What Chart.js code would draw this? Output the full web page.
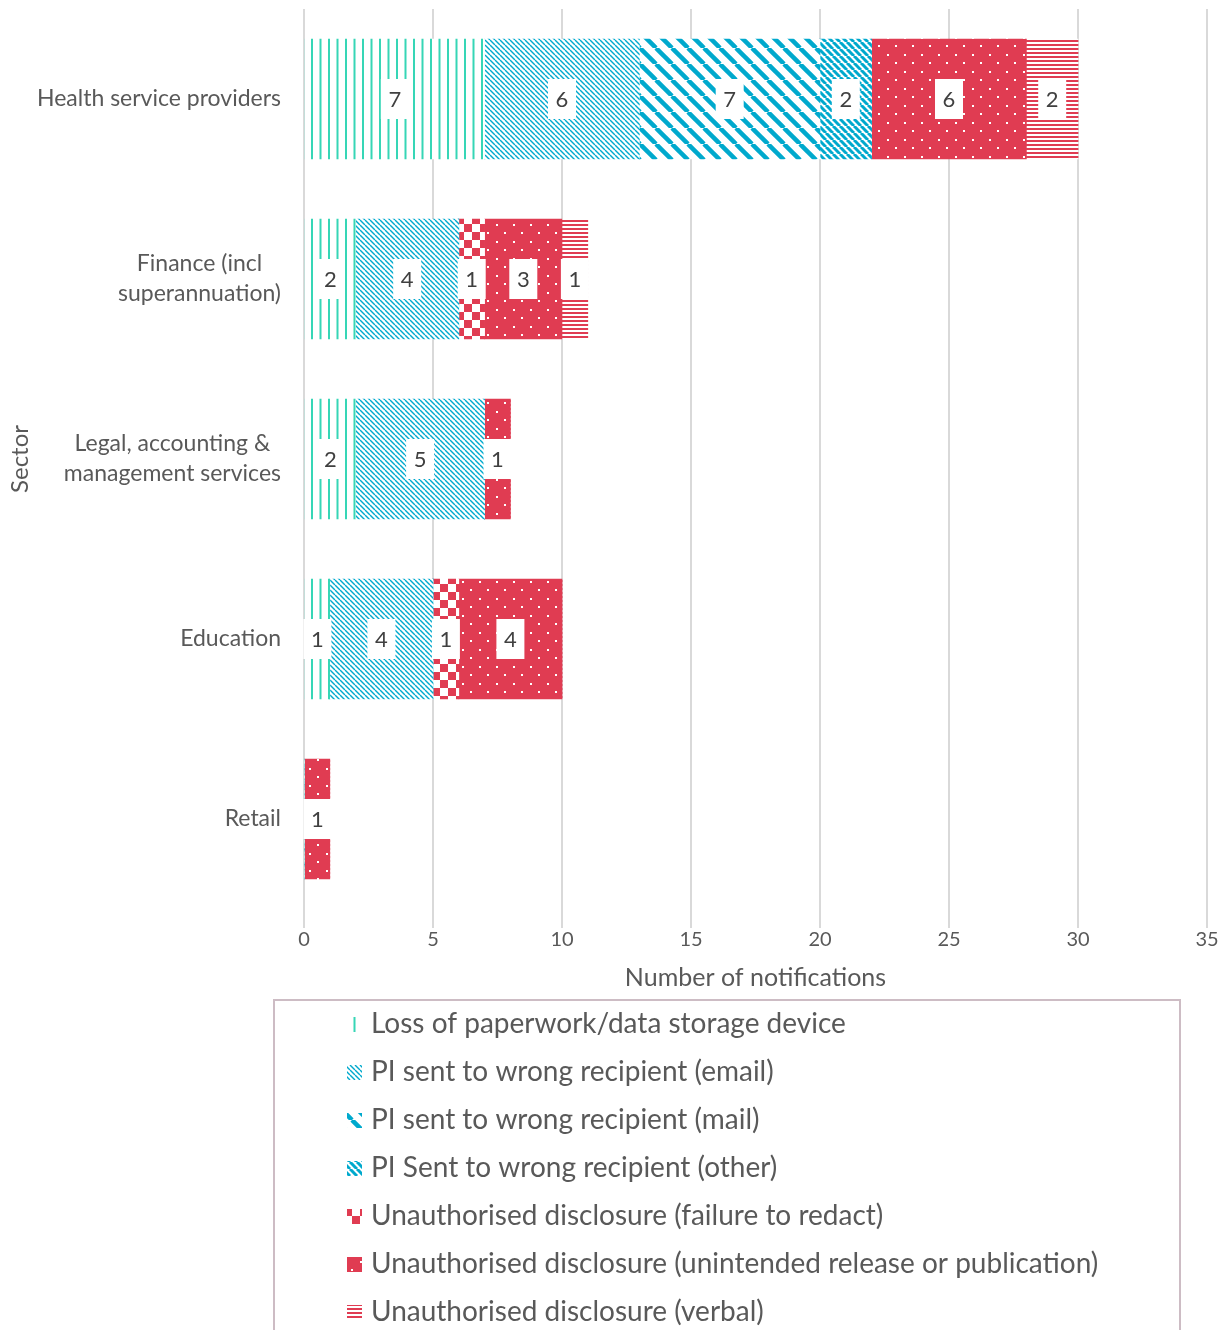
<!DOCTYPE html>
<html>
<head>
<meta charset="utf-8">
<script src="https://cdn.jsdelivr.net/npm/chart.js@4/dist/chart.umd.min.js"></script>
<style>
  body { margin: 0; background: #fff; }
  #wrap { width: 1230px; height: 1330px; position: relative; }
</style>
</head>
<body>
<div id="wrap"><canvas id="breaches"></canvas></div>
<script>
// sectors, top to bottom
var sectors = [
    ['Health service providers'],
    ['Finance (incl', 'superannuation)'],
    ['Legal, accounting &', 'management services'],
    ['Education'],
    ['Retail'],
];

var seriesNames = [
    'Loss of paperwork/data storage device',
    'PI sent to wrong recipient (email)',
    'PI sent to wrong recipient (mail)',
    'PI Sent to wrong recipient (other)',
    'Unauthorised disclosure (failure to redact)',
    'Unauthorised disclosure (unintended release or publication)',
    'Unauthorised disclosure (verbal)',
];

var lossPaperwork   = [7, 2, 2, 1, 0];
var wrongEmail      = [6, 4, 5, 4, 0];
var wrongMail       = [7, 0, 0, 0, 0];
var wrongOther      = [2, 0, 0, 0, 0];
var failRedact      = [0, 1, 0, 1, 0];
var unintendedRel   = [6, 3, 1, 4, 1];
var verbalDisclose  = [2, 1, 0, 0, 0];

var xTicks = [0, 5, 10, 15, 20, 25, 30, 35];

var GREEN = '#36d6b6';
var CYAN = '#00a9cd';
var RED = '#e03c52';
var TEXT = '#595959';
var FONT = 'Lato, "Noto Sans", sans-serif';

// ---- hatch patterns ----
function makeTile(w, h, draw) {
    var c = document.createElement('canvas');
    c.width = w;
    c.height = h;
    var ctx = c.getContext('2d');
    ctx.fillStyle = '#fff';
    ctx.fillRect(0, 0, w, h);
    draw(ctx, w, h);
    return document.createElement('canvas').getContext('2d').createPattern(c, 'repeat');
}

function diagTile(size, width, color) {
    return makeTile(size, size, function (ctx, w, h) {
        ctx.strokeStyle = color;
        ctx.lineWidth = width;
        // "\" direction, drawn three times so it wraps cleanly
        for (var k = -1; k <= 1; k++) {
            ctx.beginPath();
            ctx.moveTo(k * w, 0);
            ctx.lineTo(k * w + w, h);
            ctx.stroke();
        }
    });
}

var patterns = [
    makeTile(17, 4, function (ctx) {
        ctx.fillStyle = GREEN;
        ctx.fillRect(5, 0, 2, 4);
        ctx.fillRect(13.5, 0, 2, 4);
    }),
    diagTile(5, 1.4, CYAN),
    diagTile(16, 4.5, CYAN),
    diagTile(7, 3, CYAN),
    makeTile(16, 16, function (ctx) {
        ctx.fillStyle = RED;
        ctx.fillRect(0, 0, 8, 8);
        ctx.fillRect(8, 8, 8, 8);
    }),
    makeTile(17, 17, function (ctx) {
        ctx.fillStyle = RED;
        ctx.fillRect(0, 0, 17, 17);
        ctx.fillStyle = '#fff';
        ctx.fillRect(3, 3, 2, 2);
        ctx.fillRect(11, 11, 2, 2);
    }),
    makeTile(4, 4, function (ctx) {
        ctx.fillStyle = RED;
        ctx.fillRect(0, 0, 4, 2);
    }),
];

var allSeries = [lossPaperwork, wrongEmail, wrongMail, wrongOther, failRedact, unintendedRel, verbalDisclose];

var datasets = allSeries.map(function (vals, i) {
    return {
        label: seriesNames[i],
        data: vals,
        backgroundColor: patterns[i],
        borderWidth: 0,
        barThickness: 120,
    };
});

// white boxed numbers in the middle of each segment
var segmentLabels = {
    id: 'segmentLabels',
    afterDatasetsDraw: function (chart) {
        var ctx = chart.ctx;
        ctx.save();
        ctx.font = '22px ' + FONT;
        ctx.textAlign = 'center';
        ctx.textBaseline = 'middle';
        chart.data.datasets.forEach(function (ds, di) {
            var meta = chart.getDatasetMeta(di);
            meta.data.forEach(function (bar, i) {
                var v = ds.data[i];
                if (!v) return;
                var cx = (bar.x + bar.base) / 2;
                ctx.fillStyle = '#fff';
                ctx.fillRect(cx - 14, bar.y - 20, 28, 40);
                ctx.fillStyle = '#404040';
                ctx.fillText(String(v), cx, bar.y + 1);
            });
        });
        ctx.restore();
    }
};

// sector names: block right aligned, lines centred within it
var sectorLabels = {
    id: 'sectorLabels',
    afterDraw: function (chart) {
        var ctx = chart.ctx;
        var yScale = chart.scales.y;
        var right = chart.chartArea.left - 23;
        ctx.save();
        ctx.font = '23px ' + FONT;
        ctx.fillStyle = TEXT;
        ctx.textAlign = 'center';
        ctx.textBaseline = 'middle';
        sectors.forEach(function (lines, i) {
            var y = yScale.getPixelForValue(i);
            var wMax = Math.max.apply(null, lines.map(function (l) { return ctx.measureText(l).width; }));
            var cx = right - wMax / 2;
            var lh = 30;
            lines.forEach(function (l, j) {
                ctx.fillText(l, cx, y + (j - (lines.length - 1) / 2) * lh);
            });
        });
        ctx.restore();
    }
};

// boxed legend below the axis
var boxLegend = {
    id: 'boxLegend',
    afterDraw: function (chart) {
        var ctx = chart.ctx;
        ctx.save();
        ctx.strokeStyle = '#cdbcc4';
        ctx.lineWidth = 2;
        ctx.strokeRect(274, 1000, 906, 360);
        ctx.font = '28px ' + FONT;
        ctx.textBaseline = 'middle';
        ctx.textAlign = 'left';
        chart.data.datasets.forEach(function (ds, i) {
            var y = 1024 + i * 48;
            ctx.fillStyle = ds.backgroundColor;
            ctx.fillRect(347, y - 7, 15, 15);
            ctx.fillStyle = TEXT;
            ctx.fillText(ds.label, 371, y);
        });
        ctx.restore();
    }
};

document.addEventListener('DOMContentLoaded', function () {
    var el = document.getElementById('breaches');

    new Chart(el, {
        type: 'bar',
        data: {
            labels: sectors.map(function (s) { return s.join(' '); }),
            datasets: datasets,
        },
        plugins: [segmentLabels, sectorLabels, boxLegend],
        options: {
            indexAxis: 'y',
            responsive: true,
            maintainAspectRatio: false,
            animation: false,
            layout: {
                padding: {top: 9, right: 23, bottom: 333, left: 0},
            },
            plugins: {
                legend: {display: false},
                tooltip: {enabled: false},
            },
            scales: {
                x: {
                    stacked: true,
                    min: 0,
                    max: 35,
                    afterBuildTicks: function (scale) {
                        scale.ticks = xTicks.map(function (v) { return {value: v}; });
                    },
                    grid: {
                        color: '#d9d9d9',
                        lineWidth: 2,
                        tickLength: 19,
                    },
                    border: {display: false},
                    ticks: {
                        color: TEXT,
                        font: {family: FONT, size: 20},
                        padding: 0,
                        maxRotation: 0,
                    },
                    title: {
                        display: true,
                        text: 'Number of notifications',
                        color: TEXT,
                        font: {family: FONT, size: 25},
                        padding: {top: 11, bottom: 4},
                    },
                },
                y: {
                    stacked: true,
                    grid: {display: false},
                    border: {display: false},
                    ticks: {display: false},
                    title: {
                        display: true,
                        text: 'Sector',
                        color: TEXT,
                        font: {family: FONT, size: 24},
                        padding: {top: 6, bottom: 0},
                    },
                    afterFit: function (scale) {
                        scale.width = 304;
                    },
                },
            },
        },
    });
});
</script>
</body>
</html>
